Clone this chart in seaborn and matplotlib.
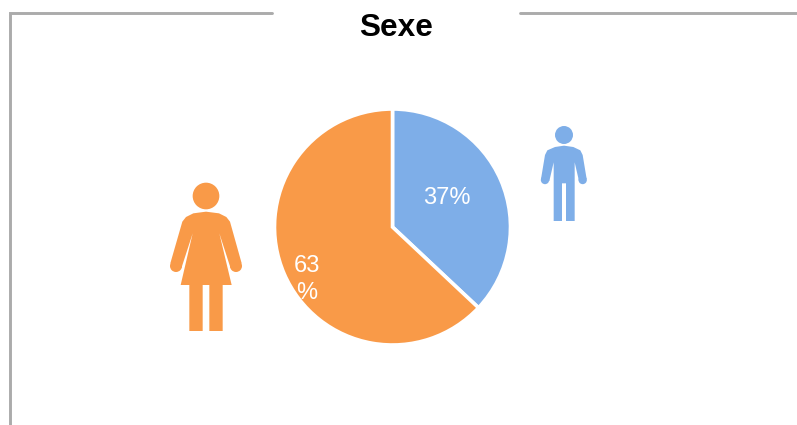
import matplotlib
matplotlib.use("Agg")
import matplotlib.pyplot as plt
from matplotlib.patches import Polygon, Circle
from matplotlib.lines import Line2D
import seaborn as sns

title = "Sexe"
categories = ["Homme", "Femme"]
values = [37, 63]
value_labels = ["37%", "63\n%"]
colors = ["#7EAEE8", "#F99A48"]
frame_color = "#ABABAB"

W, H = 797, 425
sns.set_theme(style="white")
plt.rcParams["font.family"] = ["Liberation Sans", "DejaVu Sans"]

fig = plt.figure(figsize=(W / 100, H / 100), dpi=100, facecolor="white")

# overlay in pixel coordinates for decoration
bg = fig.add_axes([0, 0, 1, 1])
bg.set_xlim(0, W)
bg.set_ylim(H, 0)
bg.axis("off")

# frame
bg.add_line(Line2D([10, 10, 272], [H, 13, 13], color=frame_color, lw=2.1, solid_joinstyle="miter"))
bg.add_line(Line2D([520, W], [13, 13], color=frame_color, lw=2.1))
bg.text(396.5, 28, title, ha="center", va="center", fontsize=22.8, fontweight="bold", color="black")


def icon(points, circles, ox, oy, color):
    pts = [(ox + x / 3, oy + y / 3) for x, y in points]
    bg.add_patch(Polygon(pts, closed=True, fc=color, ec="none"))
    for cx, cy, r in circles:
        bg.add_patch(Circle((ox + cx / 3, oy + cy / 3), r / 3, fc=color, ec="none"))


female = [(168, 125), (130, 130), (108, 141), (97, 155), (61, 280), (94, 295),
          (128, 190), (92, 345), (118, 345), (118, 483), (158, 483), (158, 345),
          (178, 345), (178, 483), (218, 483), (218, 345), (245, 345), (208, 190),
          (242, 295), (275, 280), (240, 155), (229, 141), (207, 130)]
icon(female, [(168, 78, 40), (78, 288, 18), (258, 288, 18)], 150, 170, colors[1])

male = [(102, 92), (75, 96), (52, 106), (45, 120), (33, 192), (58, 198), (71, 142),
        (71, 318), (96, 318), (96, 205), (108, 205), (108, 318), (134, 318),
        (134, 142), (147, 198), (170, 192), (158, 120), (151, 106), (130, 96)]
icon(male, [(102, 60, 27), (45, 195, 12.5), (158, 195, 12.5)], 530, 115, colors[0])

# pie
ax = fig.add_axes([274.5 / W, 1 - 345 / H, 236 / W, 236 / H])
wedges, _ = ax.pie(values, colors=colors, startangle=90, counterclock=False, radius=1,
                   wedgeprops=dict(edgecolor="white", linewidth=2.6))
ax.set_xlim(-1, 1)
ax.set_ylim(-1, 1)
ax.set_aspect("equal")

bg.set_zorder(0)
ax.set_zorder(1)
ax.patch.set_alpha(0)

# value labels
top = fig.add_axes([0, 0, 1, 1])
top.set_xlim(0, W)
top.set_ylim(H, 0)
top.axis("off")
top.set_zorder(2)
top.text(447, 198, value_labels[0], ha="center", va="center", fontsize=17, color="white")
top.text(306.5, 279.5, value_labels[1], ha="center", va="center", fontsize=17, color="white",
         linespacing=1.3)

fig.savefig("out.png", dpi=100, facecolor="white")
